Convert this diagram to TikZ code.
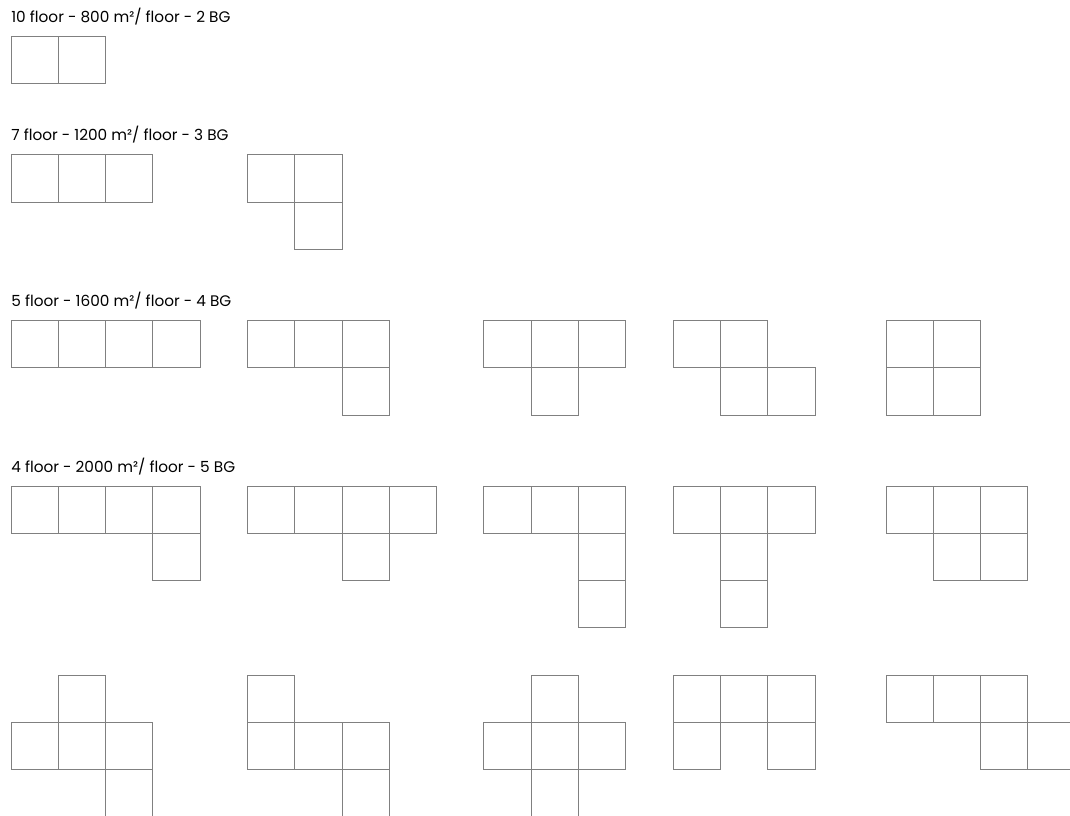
\documentclass[tikz,border=0pt]{standalone}
\usepackage{fontspec}
\setmainfont{Poppins}
\usepackage{tikz}
\usetikzlibrary{positioning}
\definecolor{cellgray}{RGB}{128,128,128}
\tikzset{
  cell/.style={draw=cellgray, line width=0.6pt},
  caption/.style={anchor=base west, inner sep=0pt,
    font=\fontsize{9.2}{10}\selectfont},
}
% one building footprint: x offset, top y, list of col/row cells
\newcommand{\footprint}[3]{%
  \foreach \cx/\cy in {#3}
    \draw[cell] ({#1+\cx},{#2-\cy}) rectangle ++(1,-1);
}

\begin{document}
\begin{tikzpicture}
  % Page: 1 unit = one 400 m2 block
  \clip (-0.2326,0.776) rectangle (22.39,-16.475);

  % 10 floors, 2 blocks
  \node[caption] (capTen) at (0,0.296) {10 floor - 800 m²/ floor - 2 BG};
  \footprint{0}{0}{0/0,1/0}

  % 7 floors, 3 blocks
  \node[caption] (capSeven) at (0,-2.204) {7 floor - 1200 m²/ floor - 3 BG};
  \footprint{0}{-2.5}{0/0,1/0,2/0}
  \footprint{5}{-2.5}{0/0,1/0,1/1}

  % 5 floors, 4 blocks
  \node[caption] (capFive) at (0,-5.704) {5 floor - 1600 m²/ floor - 4 BG};
  \footprint{0}{-6}{0/0,1/0,2/0,3/0}
  \footprint{5}{-6}{0/0,1/0,2/0,2/1}
  \footprint{10}{-6}{0/0,1/0,2/0,1/1}
  \footprint{14}{-6}{0/0,1/0,1/1,2/1}
  \footprint{18.5}{-6}{0/0,1/0,0/1,1/1}

  % 4 floors, 5 blocks
  \node[caption] (capFour) at (0,-9.204) {4 floor - 2000 m²/ floor - 5 BG};
  \footprint{0}{-9.5}{0/0,1/0,2/0,3/0,3/1}
  \footprint{5}{-9.5}{0/0,1/0,2/0,3/0,2/1}
  \footprint{10}{-9.5}{0/0,1/0,2/0,2/1,2/2}
  \footprint{14}{-9.5}{0/0,1/0,2/0,1/1,1/2}
  \footprint{18.5}{-9.5}{0/0,1/0,2/0,1/1,2/1}

  % 4 floors, 5 blocks (cont.)
  \footprint{0}{-13.5}{1/0,0/1,1/1,2/1,2/2}
  \footprint{5}{-13.5}{0/0,0/1,1/1,2/1,2/2}
  \footprint{10}{-13.5}{1/0,0/1,1/1,2/1,1/2}
  \footprint{14}{-13.5}{0/0,1/0,2/0,0/1,2/1}
  \footprint{18.5}{-13.5}{0/0,1/0,2/0,2/1,3/1}
\end{tikzpicture}
\end{document}
